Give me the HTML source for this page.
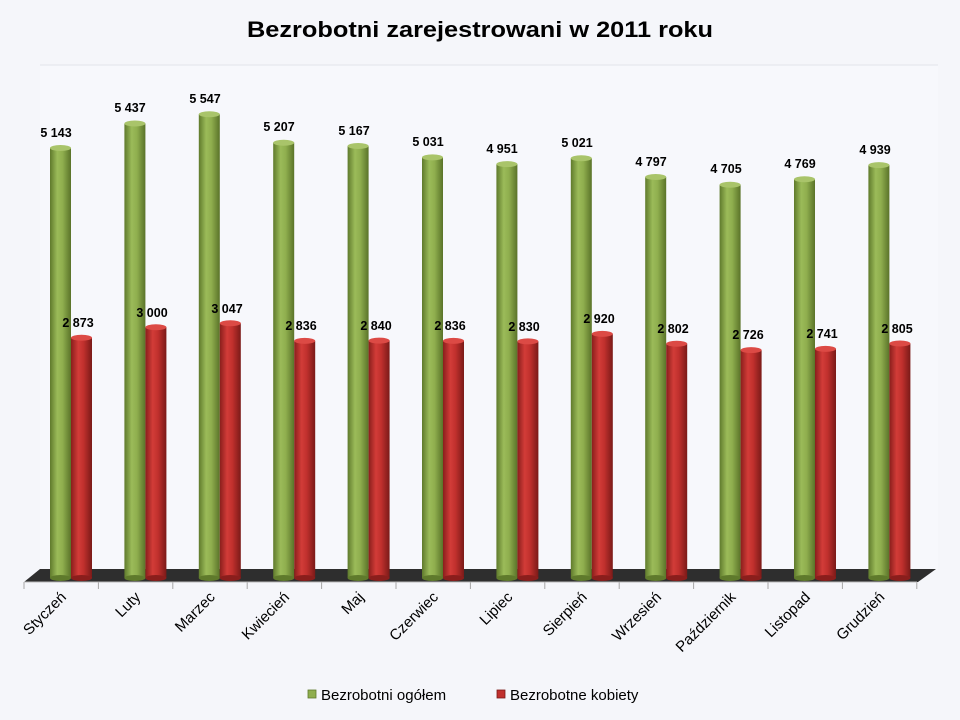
<!DOCTYPE html>
<html><head><meta charset="utf-8"><style>
body{margin:0;background:#f5f6fa}
svg{display:block;font-family:"Liberation Sans",sans-serif}
</style></head><body>
<svg width="960" height="720" viewBox="0 0 960 720">
<defs>
<linearGradient id="g" x1="0" x2="1"><stop offset="0" stop-color="#5f7a2c"/><stop offset="0.35" stop-color="#9bbb59"/><stop offset="0.6" stop-color="#8fae4e"/><stop offset="1" stop-color="#5a7329"/></linearGradient>
<linearGradient id="r" x1="0" x2="1"><stop offset="0" stop-color="#8a1e1c"/><stop offset="0.35" stop-color="#d23c38"/><stop offset="0.6" stop-color="#c0302d"/><stop offset="1" stop-color="#7a1a18"/></linearGradient>
</defs>
<rect width="960" height="720" fill="#f5f6fa"/>
<rect x="40" y="65" width="898" height="505" fill="#f7f8fc"/>
<line x1="40" y1="65" x2="938" y2="65" stroke="#e2e4ea"/>
<text x="480" y="37" text-anchor="middle" font-size="22" font-weight="bold" textLength="466" lengthAdjust="spacingAndGlyphs">Bezrobotni zarejestrowani w 2011 roku</text>
<polygon points="40,569 936,569 918,582 24,582" fill="#2e2e2e"/>
<g stroke="#a6a6a6">
<line x1="24" y1="582" x2="24" y2="589"/><line x1="98.4" y1="582" x2="98.4" y2="589"/><line x1="172.8" y1="582" x2="172.8" y2="589"/><line x1="247.2" y1="582" x2="247.2" y2="589"/><line x1="321.6" y1="582" x2="321.6" y2="589"/><line x1="396" y1="582" x2="396" y2="589"/><line x1="470.4" y1="582" x2="470.4" y2="589"/><line x1="544.8" y1="582" x2="544.8" y2="589"/><line x1="619.2" y1="582" x2="619.2" y2="589"/><line x1="693.6" y1="582" x2="693.6" y2="589"/><line x1="768" y1="582" x2="768" y2="589"/><line x1="842.4" y1="582" x2="842.4" y2="589"/><line x1="916.8" y1="582" x2="916.8" y2="589"/>
<line x1="24" y1="582" x2="917" y2="582" stroke="#bbb"/>
</g>
<g>
<rect x="50" y="148" width="21" height="430" fill="url(#g)"/><ellipse cx="60.5" cy="578" rx="10.5" ry="3" fill="#5f7a2c"/><ellipse cx="60.5" cy="148" rx="10.5" ry="3" fill="#a9c46a"/>
<rect x="71" y="337.8" width="21" height="240.2" fill="url(#r)"/><ellipse cx="81.5" cy="578" rx="10.5" ry="3" fill="#8a1e1c"/><ellipse cx="81.5" cy="337.8" rx="10.5" ry="3" fill="#dc4a45"/>
<rect x="124.4" y="123.5" width="21" height="454.5" fill="url(#g)"/><ellipse cx="134.9" cy="578" rx="10.5" ry="3" fill="#5f7a2c"/><ellipse cx="134.9" cy="123.5" rx="10.5" ry="3" fill="#a9c46a"/>
<rect x="145.4" y="327.2" width="21" height="250.8" fill="url(#r)"/><ellipse cx="155.9" cy="578" rx="10.5" ry="3" fill="#8a1e1c"/><ellipse cx="155.9" cy="327.2" rx="10.5" ry="3" fill="#dc4a45"/>
<rect x="198.8" y="114.3" width="21" height="463.7" fill="url(#g)"/><ellipse cx="209.3" cy="578" rx="10.5" ry="3" fill="#5f7a2c"/><ellipse cx="209.3" cy="114.3" rx="10.5" ry="3" fill="#a9c46a"/>
<rect x="219.8" y="323.3" width="21" height="254.7" fill="url(#r)"/><ellipse cx="230.3" cy="578" rx="10.5" ry="3" fill="#8a1e1c"/><ellipse cx="230.3" cy="323.3" rx="10.5" ry="3" fill="#dc4a45"/>
<rect x="273.2" y="142.7" width="21" height="435.3" fill="url(#g)"/><ellipse cx="283.7" cy="578" rx="10.5" ry="3" fill="#5f7a2c"/><ellipse cx="283.7" cy="142.7" rx="10.5" ry="3" fill="#a9c46a"/>
<rect x="294.2" y="340.9" width="21" height="237.1" fill="url(#r)"/><ellipse cx="304.7" cy="578" rx="10.5" ry="3" fill="#8a1e1c"/><ellipse cx="304.7" cy="340.9" rx="10.5" ry="3" fill="#dc4a45"/>
<rect x="347.6" y="146" width="21" height="432" fill="url(#g)"/><ellipse cx="358.1" cy="578" rx="10.5" ry="3" fill="#5f7a2c"/><ellipse cx="358.1" cy="146" rx="10.5" ry="3" fill="#a9c46a"/>
<rect x="368.6" y="340.6" width="21" height="237.4" fill="url(#r)"/><ellipse cx="379.1" cy="578" rx="10.5" ry="3" fill="#8a1e1c"/><ellipse cx="379.1" cy="340.6" rx="10.5" ry="3" fill="#dc4a45"/>
<rect x="422" y="157.4" width="21" height="420.6" fill="url(#g)"/><ellipse cx="432.5" cy="578" rx="10.5" ry="3" fill="#5f7a2c"/><ellipse cx="432.5" cy="157.4" rx="10.5" ry="3" fill="#a9c46a"/>
<rect x="443" y="340.9" width="21" height="237.1" fill="url(#r)"/><ellipse cx="453.5" cy="578" rx="10.5" ry="3" fill="#8a1e1c"/><ellipse cx="453.5" cy="340.9" rx="10.5" ry="3" fill="#dc4a45"/>
<rect x="496.4" y="164.1" width="21" height="413.9" fill="url(#g)"/><ellipse cx="506.9" cy="578" rx="10.5" ry="3" fill="#5f7a2c"/><ellipse cx="506.9" cy="164.1" rx="10.5" ry="3" fill="#a9c46a"/>
<rect x="517.4" y="341.4" width="21" height="236.6" fill="url(#r)"/><ellipse cx="527.9" cy="578" rx="10.5" ry="3" fill="#8a1e1c"/><ellipse cx="527.9" cy="341.4" rx="10.5" ry="3" fill="#dc4a45"/>
<rect x="570.8" y="158.2" width="21" height="419.8" fill="url(#g)"/><ellipse cx="581.3" cy="578" rx="10.5" ry="3" fill="#5f7a2c"/><ellipse cx="581.3" cy="158.2" rx="10.5" ry="3" fill="#a9c46a"/>
<rect x="591.8" y="333.9" width="21" height="244.1" fill="url(#r)"/><ellipse cx="602.3" cy="578" rx="10.5" ry="3" fill="#8a1e1c"/><ellipse cx="602.3" cy="333.9" rx="10.5" ry="3" fill="#dc4a45"/>
<rect x="645.2" y="177" width="21" height="401" fill="url(#g)"/><ellipse cx="655.7" cy="578" rx="10.5" ry="3" fill="#5f7a2c"/><ellipse cx="655.7" cy="177" rx="10.5" ry="3" fill="#a9c46a"/>
<rect x="666.2" y="343.8" width="21" height="234.2" fill="url(#r)"/><ellipse cx="676.7" cy="578" rx="10.5" ry="3" fill="#8a1e1c"/><ellipse cx="676.7" cy="343.8" rx="10.5" ry="3" fill="#dc4a45"/>
<rect x="719.6" y="184.7" width="21" height="393.3" fill="url(#g)"/><ellipse cx="730.1" cy="578" rx="10.5" ry="3" fill="#5f7a2c"/><ellipse cx="730.1" cy="184.7" rx="10.5" ry="3" fill="#a9c46a"/>
<rect x="740.6" y="350.1" width="21" height="227.9" fill="url(#r)"/><ellipse cx="751.1" cy="578" rx="10.5" ry="3" fill="#8a1e1c"/><ellipse cx="751.1" cy="350.1" rx="10.5" ry="3" fill="#dc4a45"/>
<rect x="794" y="179.3" width="21" height="398.7" fill="url(#g)"/><ellipse cx="804.5" cy="578" rx="10.5" ry="3" fill="#5f7a2c"/><ellipse cx="804.5" cy="179.3" rx="10.5" ry="3" fill="#a9c46a"/>
<rect x="815" y="348.9" width="21" height="229.1" fill="url(#r)"/><ellipse cx="825.5" cy="578" rx="10.5" ry="3" fill="#8a1e1c"/><ellipse cx="825.5" cy="348.9" rx="10.5" ry="3" fill="#dc4a45"/>
<rect x="868.4" y="165.1" width="21" height="412.9" fill="url(#g)"/><ellipse cx="878.9" cy="578" rx="10.5" ry="3" fill="#5f7a2c"/><ellipse cx="878.9" cy="165.1" rx="10.5" ry="3" fill="#a9c46a"/>
<rect x="889.4" y="343.5" width="21" height="234.5" fill="url(#r)"/><ellipse cx="899.9" cy="578" rx="10.5" ry="3" fill="#8a1e1c"/><ellipse cx="899.9" cy="343.5" rx="10.5" ry="3" fill="#dc4a45"/>
</g>
<g font-size="12.5" font-weight="bold" text-anchor="middle" fill="#000">
<text x="56" y="137">5 143</text><text x="78" y="327">2 873</text>
<text x="130" y="112">5 437</text><text x="152" y="317">3 000</text>
<text x="205" y="103">5 547</text><text x="227" y="313">3 047</text>
<text x="279" y="131">5 207</text><text x="301" y="330">2 836</text>
<text x="354" y="135">5 167</text><text x="376" y="330">2 840</text>
<text x="428" y="146">5 031</text><text x="450" y="330">2 836</text>
<text x="502" y="153">4 951</text><text x="524" y="331">2 830</text>
<text x="577" y="147">5 021</text><text x="599" y="323">2 920</text>
<text x="651" y="166">4 797</text><text x="673" y="333">2 802</text>
<text x="726" y="173">4 705</text><text x="748" y="339">2 726</text>
<text x="800" y="168">4 769</text><text x="822" y="338">2 741</text>
<text x="875" y="154">4 939</text><text x="897" y="333">2 805</text>
</g>
<g font-size="15" text-anchor="end" fill="#000">
<text transform="translate(67,598) rotate(-45)">Styczeń</text>
<text transform="translate(141.4,598) rotate(-45)">Luty</text>
<text transform="translate(215.8,598) rotate(-45)">Marzec</text>
<text transform="translate(290.2,598) rotate(-45)">Kwiecień</text>
<text transform="translate(364.6,598) rotate(-45)">Maj</text>
<text transform="translate(439,598) rotate(-45)">Czerwiec</text>
<text transform="translate(513.4,598) rotate(-45)">Lipiec</text>
<text transform="translate(587.8,598) rotate(-45)">Sierpień</text>
<text transform="translate(662.2,598) rotate(-45)">Wrzesień</text>
<text transform="translate(736.6,598) rotate(-45)">Październik</text>
<text transform="translate(811,598) rotate(-45)">Listopad</text>
<text transform="translate(885.4,598) rotate(-45)">Grudzień</text>
</g>
<rect x="308" y="690" width="8" height="8" fill="#8fae4e" stroke="#5f7a2c" stroke-width="0.8"/>
<text x="321" y="700" font-size="15">Bezrobotni ogółem</text>
<rect x="497" y="690" width="8" height="8" fill="#c0302d" stroke="#7a1a18" stroke-width="0.8"/>
<text x="510" y="700" font-size="15">Bezrobotne kobiety</text>
</svg>
</body></html>
